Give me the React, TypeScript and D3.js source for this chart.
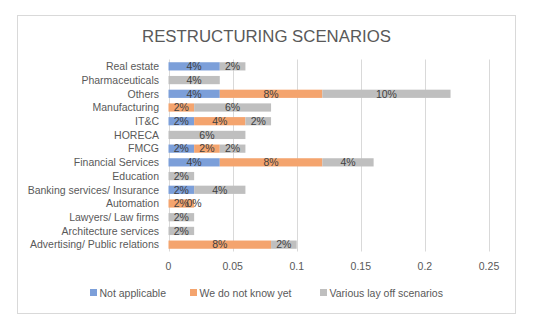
import React from "react";
import * as d3 from "d3";

const categories = [
  "Real estate",
  "Pharmaceuticals",
  "Others",
  "Manufacturing",
  "IT&C",
  "HORECA",
  "FMCG",
  "Financial Services",
  "Education",
  "Banking services/ Insurance",
  "Automation",
  "Lawyers/ Law firms",
  "Architecture services",
  "Advertising/ Public relations",
];

const seriesNames = ["Not applicable", "We do not know yet", "Various lay off scenarios"];

const notApplicable: (number | null)[] = [0.04, null, 0.04, null, 0.02, null, 0.02, 0.04, null, 0.02, null, null, null, null];
const doNotKnow: (number | null)[] = [null, null, 0.08, 0.02, 0.04, null, 0.02, 0.08, null, null, 0.02, null, null, 0.08];
const layOff: (number | null)[] = [0.02, 0.04, 0.1, 0.06, 0.02, 0.06, 0.02, 0.04, 0.02, 0.04, 0, 0.02, 0.02, 0.02];

const xTicks = [0, 0.05, 0.1, 0.15, 0.2, 0.25];

const colors = ["#7C9FD9", "#F4A46E", "#BFBFBF"];

export default function App() {
  const W = 539;
  const H = 331;
  const x = d3.scaleLinear().domain([0, 0.25]).range([168.5, 489]);
  const y = d3.scaleBand<string>().domain(categories).range([59.5, 251.5]).paddingInner(0.4).paddingOuter(0.2);
  const series = [notApplicable, doNotKnow, layOff];
  const font = "'Liberation Sans', Arial, sans-serif";

  const segs: { key: string; cat: string; x0: number; x1: number; v: number; s: number }[] = [];
  categories.forEach((c, i) => {
    let acc = 0;
    series.forEach((arr, s) => {
      const v = arr[i];
      if (v === null) return;
      segs.push({ key: c + s, cat: c, x0: acc, x1: acc + v, v, s });
      acc += v;
    });
  });

  const legendItems = [
    { x: 90, name: seriesNames[0], c: colors[0] },
    { x: 190, name: seriesNames[1], c: colors[1] },
    { x: 320, name: seriesNames[2], c: colors[2] },
  ];

  return (
    <svg width={W} height={H} style={{ position: "absolute", left: 0, top: 0 }} fontFamily={font}>
      <rect x={0} y={0} width={W} height={H} fill="#fff" />
      <rect x={17.5} y={15.5} width={498} height={298} fill="#fff" stroke="#D9D9D9" strokeWidth={1} />
      <text x={266.5} y={41.5} textAnchor="middle" fontSize={16.8} fill="#595959">
        RESTRUCTURING SCENARIOS
      </text>
      {xTicks.map((t) => (
        <g key={t}>
          <line x1={Math.round(x(t)) + 0.5} x2={Math.round(x(t)) + 0.5} y1={59.5} y2={251.5} stroke="#D9D9D9" />
          <text x={x(t)} y={270} textAnchor="middle" fontSize={10.5} fill="#595959">
            {String(t)}
          </text>
        </g>
      ))}
      {segs.map((d) => (
        <rect key={d.key} x={x(d.x0)} y={y(d.cat)!} width={x(d.x1) - x(d.x0)} height={y.bandwidth()} fill={colors[d.s]} />
      ))}
      {segs.map((d) => (
        <text
          key={"l" + d.key}
          x={(x(d.x0) + x(d.x1)) / 2}
          y={y(d.cat)! + y.bandwidth() / 2 + 3.8}
          textAnchor="middle"
          fontSize={10.5}
          fill="#404040"
        >
          {d3.format(".0%")(d.v)}
        </text>
      ))}
      {categories.map((c) => (
        <text key={c} x={159} y={y(c)! + y.bandwidth() / 2 + 3.8} textAnchor="end" fontSize={10.5} fill="#595959">
          {c}
        </text>
      ))}
      {legendItems.map((l) => (
        <g key={l.name}>
          <rect x={l.x} y={289} width={7} height={7} fill={l.c} />
          <text x={l.x + 9.5} y={296.5} fontSize={10.5} fill="#595959">
            {l.name}
          </text>
        </g>
      ))}
    </svg>
  );
}
